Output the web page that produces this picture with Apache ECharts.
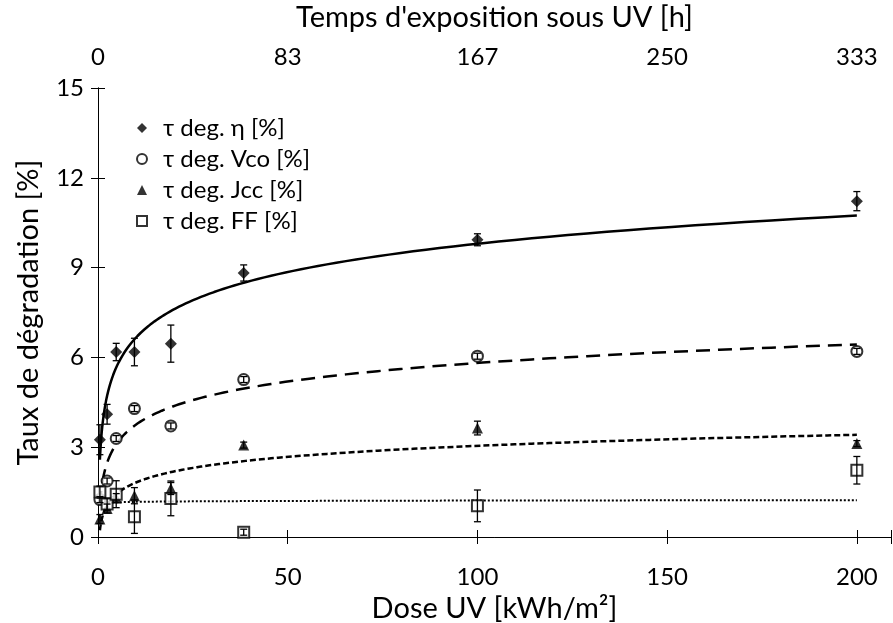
<!DOCTYPE html>
<html>
<head>
<meta charset="utf-8">
<script src="https://cdn.jsdelivr.net/npm/echarts@6/dist/echarts.min.js"></script>
<style>
  html, body { margin: 0; padding: 0; background: #fff; }
  #chart { width: 893px; height: 623px; }
</style>
</head>
<body>
<div id="chart"></div>
<script>
// Dose UV [kWh/m²]
const doses = [0.5, 2.4, 4.8, 9.6, 19.2, 38.4, 100, 200]
const doseLabels = ['0', '50', '100', '150', '200']
// Temps d'exposition sous UV [h] (axe du haut, aligné sur les graduations de dose)
const hourLabels = ['0', '83', '167', '250', '333']

// taux de dégradation [%] et barres d'erreur
const etaValues = [3.25, 4.1, 6.18, 6.18, 6.46, 8.82, 9.93, 11.22]
const etaErrors = [0.5, 0.33, 0.29, 0.46, 0.62, 0.27, 0.2, 0.32]
const vcoValues = [1.25, 1.87, 3.29, 4.29, 3.71, 5.26, 6.04, 6.2]
const vcoErrors = [0.1, 0.1, 0.1, 0.1, 0.1, 0.1, 0.1, 0.1]
const jccValues = [0.6, 0.95, 1.3, 1.38, 1.62, 3.07, 3.64, 3.12]
const jccErrors = [0.15, 0.15, 0.15, 0.27, 0.2, 0.1, 0.23, 0.1]
const ffValues = [1.5, 1.1, 1.43, 0.68, 1.29, 0.16, 1.04, 2.23]
const ffErrors = [0.2, 0.2, 0.45, 0.56, 0.58, 0.1, 0.53, 0.46]

const FONT = 'Lato'

// courbe de tendance logarithmique (moindres carrés, comme Excel)
const logFit = (xs, ys) => {
  const lx = xs.map(Math.log)
  const n = xs.length
  const mx = lx.reduce((s, v) => s + v, 0) / n
  const my = ys.reduce((s, v) => s + v, 0) / n
  let sxy = 0, sxx = 0
  lx.forEach((v, i) => { sxy += (v - mx) * (ys[i] - my); sxx += (v - mx) * (v - mx) })
  const b = sxy / sxx
  return { a: my - b * mx, b }
}
const trend = (ys) => {
  const { a, b } = logFit(doses, ys)
  const x0 = Math.log(doses[0]), x1 = Math.log(doses[doses.length - 1])
  const pts = []
  for (let i = 0; i <= 150; i++) {
    const x = Math.exp(x0 + (x1 - x0) * i / 150)
    pts.push([x, a + b * Math.log(x)])
  }
  return pts
}

const errorBars = (vals, errs) => ({
  type: 'custom',
  z: 4,
  silent: true,
  renderItem: (params, api) => {
    const x = api.value(0), y = api.value(1), e = api.value(2)
    const top = api.coord([x, y + e])
    const bot = api.coord([x, y - e])
    const w = 3.5
    const style = { stroke: '#000', lineWidth: 1.3 }
    return {
      type: 'group',
      children: [
        { type: 'line', shape: { x1: top[0], y1: top[1], x2: bot[0], y2: bot[1] }, style },
        { type: 'line', shape: { x1: top[0] - w, y1: top[1], x2: top[0] + w, y2: top[1] }, style },
        { type: 'line', shape: { x1: bot[0] - w, y1: bot[1], x2: bot[0] + w, y2: bot[1] }, style }
      ]
    }
  },
  data: doses.map((d, i) => [d, vals[i], errs[i]])
})

const scatter = (name, vals, symbol, size, filled) => ({
  name,
  type: 'scatter',
  z: 3,
  symbol,
  symbolSize: size,
  itemStyle: filled
    ? { color: '#000' }
    : { color: '#fff', borderColor: '#000', borderWidth: 2 },
  data: doses.map((d, i) => [d, vals[i]])
})

const trendLine = (vals, type, width) => ({
  type: 'line',
  z: 2,
  silent: true,
  showSymbol: false,
  smooth: false,
  lineStyle: { color: '#000', width, type },
  data: trend(vals)
})

const axisCommon = {
  axisLine: { lineStyle: { color: '#000', width: 1 } },
  axisTick: { inside: true, length: 7, lineStyle: { color: '#000' } },
  splitLine: { show: false }
}

const chart = echarts.init(document.getElementById('chart'))
chart.setOption({
  animation: false,
  backgroundColor: '#fff',
  grid: { left: 98, right: 2, top: 88, bottom: 86, containLabel: false, outerBoundsMode: 'none' },
  legend: {
    orient: 'vertical',
    left: 131,
    top: 110,
    itemWidth: 10,
    itemHeight: 10,
    itemGap: 5,
    data: ['τ deg. η [%]', 'τ deg. Vco [%]', 'τ deg. Jcc [%]', 'τ deg. FF [%]'],
    textStyle: { fontFamily: FONT, fontSize: 24, color: '#000', lineHeight: 26, padding: [0, 0, 0, 11] }
  },
  xAxis: [
    {
      type: 'value', position: 'bottom', min: 0, max: 209, interval: 50,
      name: 'Dose UV [kWh/m²]', nameLocation: 'middle', nameGap: 56,
      nameTextStyle: { fontFamily: FONT, fontSize: 29, color: '#000' },
      axisLabel: {
        margin: 28, fontFamily: FONT, fontSize: 24, color: '#000',
        formatter: (v) => (v % 50 === 0 ? doseLabels[v / 50] : '')
      },
      ...axisCommon
    },
    {
      type: 'value', position: 'top', min: 0, max: 209, interval: 50,
      name: "Temps d'exposition sous UV [h]", nameLocation: 'middle', nameGap: 56,
      nameTextStyle: { fontFamily: FONT, fontSize: 29, color: '#000' },
      axisLabel: {
        margin: 19, fontFamily: FONT, fontSize: 24, color: '#000',
        formatter: (v) => (v % 50 === 0 ? hourLabels[v / 50] : '')
      },
      ...axisCommon
    }
  ],
  yAxis: [
    {
      type: 'value', position: 'left', min: 0, max: 15, interval: 3,
      name: 'Taux de dégradation [%]', nameLocation: 'middle', nameGap: 55,
      nameTextStyle: { fontFamily: FONT, fontSize: 29, color: '#000' },
      axisLabel: { margin: 14, fontFamily: FONT, fontSize: 24, color: '#000' },
      ...axisCommon
    },
    {
      type: 'value', position: 'right', min: 0, max: 15, interval: 3,
      axisLabel: { show: false },
      ...axisCommon
    }
  ],
  series: [
    trendLine(etaValues, 'solid', 2.5),
    trendLine(vcoValues, [14, 8], 2.5),
    trendLine(jccValues, [6, 3], 2.5),
    trendLine(ffValues, [2, 2], 2),
    scatter('τ deg. η [%]', etaValues, 'diamond', 12, true),
    scatter('τ deg. Vco [%]', vcoValues, 'circle', 11, false),
    scatter('τ deg. Jcc [%]', jccValues, 'triangle', 11, true),
    scatter('τ deg. FF [%]', ffValues, 'rect', 11, false),
    errorBars(etaValues, etaErrors),
    errorBars(vcoValues, vcoErrors),
    errorBars(jccValues, jccErrors),
    errorBars(ffValues, ffErrors)
  ]
})
</script>
</body>
</html>
